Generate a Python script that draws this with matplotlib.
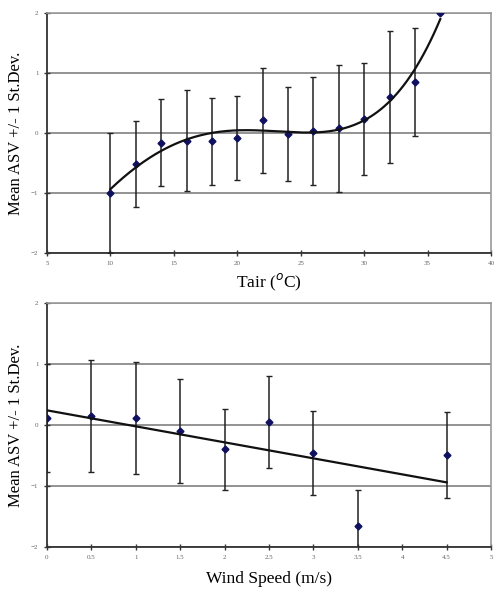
import numpy as np
import matplotlib
matplotlib.use('Agg')
import matplotlib.pyplot as plt

# Air temperature panel
tair = [10, 12, 14, 16, 18, 20, 22, 24, 26, 28, 30, 32, 34, 36]
tair_mean = [-1.0, -0.52, -0.16, -0.13, -0.14, -0.08, 0.21, -0.02, 0.04, 0.08, 0.23, 0.60, 0.85, 2.0]
tair_sd = [1.0, 0.72, 0.72, 0.84, 0.73, 0.70, 0.87, 0.78, 0.90, 1.06, 0.93, 1.10, 0.90, 0.0]

# Wind speed panel
wind = [0, 0.5, 1, 1.5, 2, 2.5, 3, 3.5, 4.5]
wind_mean = [0.12, 0.15, 0.11, -0.10, -0.40, 0.05, -0.46, -1.66, -0.49]
wind_sd = [0.89, 0.92, 0.92, 0.85, 0.67, 0.75, 0.69, 0.59, 0.70]

tair_ticks = [5, 10, 15, 20, 25, 30, 35, 40]
wind_ticks = [0, 0.5, 1, 1.5, 2, 2.5, 3, 3.5, 4, 4.5, 5]
wind_ticklabels = ['0', '0.5', '1', '1.5', '2', '2.5', '3', '3.5', '4', '4.5', '5']
y_ticks = [-2, -1, 0, 1, 2]

plt.rcParams['font.family'] = ['Liberation Serif', 'DejaVu Serif']

fig = plt.figure(figsize=(4.94, 5.9), dpi=100)
ax1 = fig.add_axes([0.095, 0.571, 0.899, 0.407])
ax2 = fig.add_axes([0.095, 0.073, 0.899, 0.413])


def style(ax):
    ax.set_ylim(-2, 2)
    ax.set_yticks(y_ticks)
    ax.yaxis.grid(True, color='#8a8a8a', lw=1.3)
    ax.set_axisbelow(True)
    for s in ['top', 'right']:
        ax.spines[s].set_color('#999999')
        ax.spines[s].set_linewidth(1.2)
    for s in ['left', 'bottom']:
        ax.spines[s].set_color('#333333')
        ax.spines[s].set_linewidth(1.3)
    ax.tick_params(direction='inout', length=4, width=1, colors='#333333',
                   labelsize=5, labelcolor='#666666', pad=4)
    ax.set_ylabel('Mean ASV +/- 1 St.Dev.', fontsize=12, labelpad=5)


# top: temperature with polynomial trendline
ax1.errorbar(tair, tair_mean, yerr=tair_sd, fmt='D', ms=3.5, mfc='#101060', mec='#101060',
             ecolor='#222222', elinewidth=1.1, capsize=2.5, capthick=1, zorder=3)
c4 = np.polyfit(tair, tair_mean, 4)
xs = np.linspace(min(tair), max(tair), 200)
ax1.plot(xs, np.polyval(c4, xs), color='#111111', lw=1.6, zorder=4)
ax1.set_xlim(5, 40)
ax1.set_xticks(tair_ticks)
style(ax1)
ax1.set_xlabel('Tair ($^{o}$C)', fontsize=12.5, labelpad=4)

# bottom: wind speed with linear trendline
ax2.errorbar(wind, wind_mean, yerr=wind_sd, fmt='D', ms=3.5, mfc='#101060', mec='#101060',
             ecolor='#222222', elinewidth=1.1, capsize=2.5, capthick=1, zorder=3)
c1 = np.polyfit(wind, wind_mean, 1)
xw = np.array([min(wind), max(wind)])
ax2.plot(xw, np.polyval(c1, xw), color='#111111', lw=1.6, zorder=4)
ax2.set_xlim(0, 5)
ax2.set_xticks(wind_ticks)
ax2.set_xticklabels(wind_ticklabels)
style(ax2)
ax2.set_xlabel('Wind Speed (m/s)', fontsize=12.5, labelpad=8)

fig.savefig('out.png', dpi=100)
